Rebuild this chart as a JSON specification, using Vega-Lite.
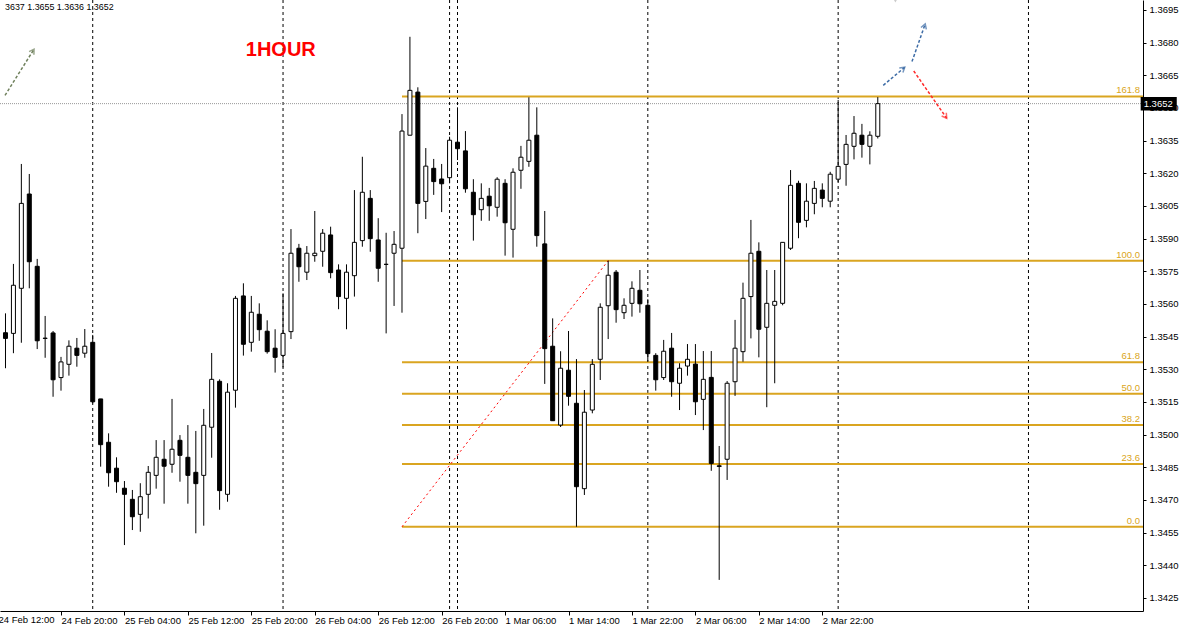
{
  "$schema": "https://vega.github.io/schema/vega-lite/v6.json",
  "width": 1143,
  "height": 611,
  "autosize": "none",
  "padding": {"left": 0, "top": 0, "right": 40, "bottom": 17},
  "background": "white",
  "config": {
    "view": {"stroke": null},
    "axis": {"labelFont": "Liberation Sans", "labelFontSize": 9.5, "labelColor": "black", "domainColor": "black", "tickColor": "black", "grid": false, "title": null, "labelOverlap": false, "labelFlush": false, "labelBound": false}
  },
  "datasets": {
    "candles": [
      {"i":0,"o":1.35468,"h":1.35557,"l":1.35305,"c":1.35442},
      {"i":1,"o":1.35465,"h":1.35784,"l":1.35374,"c":1.35686},
      {"i":2,"o":1.35672,"h":1.36243,"l":1.35422,"c":1.36062},
      {"i":3,"o":1.36105,"h":1.36197,"l":1.35672,"c":1.35794},
      {"i":4,"o":1.35773,"h":1.35807,"l":1.35393,"c":1.35431},
      {"i":5,"o":1.35443,"h":1.35545,"l":1.35353,"c":1.35442},
      {"i":6,"o":1.35467,"h":1.35476,"l":1.35174,"c":1.35252},
      {"i":7,"o":1.35262,"h":1.35357,"l":1.35202,"c":1.35334},
      {"i":8,"o":1.35323,"h":1.35433,"l":1.35271,"c":1.35406},
      {"i":9,"o":1.35397,"h":1.35444,"l":1.35312,"c":1.35364},
      {"i":10,"o":1.35374,"h":1.35485,"l":1.35353,"c":1.35406},
      {"i":11,"o":1.35424,"h":1.35458,"l":1.35144,"c":1.35151},
      {"i":12,"o":1.35164,"h":1.35164,"l":1.34853,"c":1.34954},
      {"i":13,"o":1.34965,"h":1.35006,"l":1.34761,"c":1.34825},
      {"i":14,"o":1.34846,"h":1.34896,"l":1.34733,"c":1.34784},
      {"i":15,"o":1.34754,"h":1.34787,"l":1.34493,"c":1.34726},
      {"i":16,"o":1.34703,"h":1.34746,"l":1.34562,"c":1.34623},
      {"i":17,"o":1.34634,"h":1.34777,"l":1.34554,"c":1.34715},
      {"i":18,"o":1.34726,"h":1.34856,"l":1.34615,"c":1.34827},
      {"i":19,"o":1.34813,"h":1.34975,"l":1.34752,"c":1.34896},
      {"i":20,"o":1.34887,"h":1.34975,"l":1.34683,"c":1.34855},
      {"i":21,"o":1.34864,"h":1.35164,"l":1.34825,"c":1.34933},
      {"i":22,"o":1.34974,"h":1.34998,"l":1.34784,"c":1.34905},
      {"i":23,"o":1.34896,"h":1.35044,"l":1.34683,"c":1.34813},
      {"i":24,"o":1.34827,"h":1.35017,"l":1.34547,"c":1.34775},
      {"i":25,"o":1.34813,"h":1.35118,"l":1.34582,"c":1.35043},
      {"i":26,"o":1.35034,"h":1.35375,"l":1.34894,"c":1.35254},
      {"i":27,"o":1.35245,"h":1.35254,"l":1.34655,"c":1.34743},
      {"i":28,"o":1.34726,"h":1.35236,"l":1.34692,"c":1.35195},
      {"i":29,"o":1.35204,"h":1.35637,"l":1.35124,"c":1.35626},
      {"i":30,"o":1.35637,"h":1.35695,"l":1.35363,"c":1.35415},
      {"i":31,"o":1.35424,"h":1.35637,"l":1.35381,"c":1.35562},
      {"i":32,"o":1.35553,"h":1.35603,"l":1.35431,"c":1.35482},
      {"i":33,"o":1.35475,"h":1.35525,"l":1.35372,"c":1.35381},
      {"i":34,"o":1.35397,"h":1.35484,"l":1.35285,"c":1.35355},
      {"i":35,"o":1.35364,"h":1.35649,"l":1.35309,"c":1.35465},
      {"i":36,"o":1.35473,"h":1.35944,"l":1.35439,"c":1.35833},
      {"i":37,"o":1.35856,"h":1.35876,"l":1.35702,"c":1.35771},
      {"i":38,"o":1.35746,"h":1.35866,"l":1.3571,"c":1.35833},
      {"i":39,"o":1.35822,"h":1.36027,"l":1.35794,"c":1.35833},
      {"i":40,"o":1.35842,"h":1.35944,"l":1.35771,"c":1.35925},
      {"i":41,"o":1.35917,"h":1.35955,"l":1.35718,"c":1.35744},
      {"i":42,"o":1.35756,"h":1.35782,"l":1.35576,"c":1.35634},
      {"i":43,"o":1.35626,"h":1.35782,"l":1.35484,"c":1.35746},
      {"i":44,"o":1.3573,"h":1.36123,"l":1.35634,"c":1.35883},
      {"i":45,"o":1.35891,"h":1.36276,"l":1.35863,"c":1.36113},
      {"i":46,"o":1.36085,"h":1.36123,"l":1.3584,"c":1.359},
      {"i":47,"o":1.35894,"h":1.35994,"l":1.35702,"c":1.35764},
      {"i":48,"o":1.35782,"h":1.35927,"l":1.35465,"c":1.35782},
      {"i":49,"o":1.35833,"h":1.35935,"l":1.35591,"c":1.35874},
      {"i":50,"o":1.35856,"h":1.36472,"l":1.3556,"c":1.36394},
      {"i":51,"o":1.36375,"h":1.36827,"l":1.36375,"c":1.36581},
      {"i":52,"o":1.36573,"h":1.36595,"l":1.35925,"c":1.36062},
      {"i":53,"o":1.36071,"h":1.36316,"l":1.3599,"c":1.36233},
      {"i":54,"o":1.36223,"h":1.36266,"l":1.36101,"c":1.36162},
      {"i":55,"o":1.36174,"h":1.36243,"l":1.36022,"c":1.36152},
      {"i":56,"o":1.3618,"h":1.36368,"l":1.36154,"c":1.36352},
      {"i":57,"o":1.36343,"h":1.36503,"l":1.36261,"c":1.36313},
      {"i":58,"o":1.36303,"h":1.36394,"l":1.36111,"c":1.36129},
      {"i":59,"o":1.36113,"h":1.36173,"l":1.35891,"c":1.3601},
      {"i":60,"o":1.36033,"h":1.36154,"l":1.35982,"c":1.36085},
      {"i":61,"o":1.36095,"h":1.36133,"l":1.35982,"c":1.36051},
      {"i":62,"o":1.36044,"h":1.36182,"l":1.36001,"c":1.36173},
      {"i":63,"o":1.36154,"h":1.36173,"l":1.35822,"c":1.35973},
      {"i":64,"o":1.35943,"h":1.36223,"l":1.35813,"c":1.36205},
      {"i":65,"o":1.36214,"h":1.36326,"l":1.36129,"c":1.36274},
      {"i":66,"o":1.36255,"h":1.36549,"l":1.3623,"c":1.36352},
      {"i":67,"o":1.36375,"h":1.36503,"l":1.35863,"c":1.35914},
      {"i":68,"o":1.35876,"h":1.36027,"l":1.35233,"c":1.35395},
      {"i":69,"o":1.35406,"h":1.35534,"l":1.35064,"c":1.35064},
      {"i":70,"o":1.35044,"h":1.35383,"l":1.35035,"c":1.35305},
      {"i":71,"o":1.35296,"h":1.35476,"l":1.35133,"c":1.35176},
      {"i":72,"o":1.35144,"h":1.35347,"l":1.34577,"c":1.34761},
      {"i":73,"o":1.34752,"h":1.35205,"l":1.34723,"c":1.35103},
      {"i":74,"o":1.35113,"h":1.35347,"l":1.35098,"c":1.35323},
      {"i":75,"o":1.35346,"h":1.35603,"l":1.35251,"c":1.35585},
      {"i":76,"o":1.35592,"h":1.35799,"l":1.35439,"c":1.35732},
      {"i":77,"o":1.35746,"h":1.35756,"l":1.35514,"c":1.35574},
      {"i":78,"o":1.3556,"h":1.35626,"l":1.35531,"c":1.35594},
      {"i":79,"o":1.35603,"h":1.35704,"l":1.35542,"c":1.35672},
      {"i":80,"o":1.35663,"h":1.35756,"l":1.3556,"c":1.35601},
      {"i":81,"o":1.35594,"h":1.35622,"l":1.35334,"c":1.35372},
      {"i":82,"o":1.35364,"h":1.35374,"l":1.35202,"c":1.35252},
      {"i":83,"o":1.35262,"h":1.35435,"l":1.35251,"c":1.35383},
      {"i":84,"o":1.35397,"h":1.35467,"l":1.35174,"c":1.35243},
      {"i":85,"o":1.35236,"h":1.35328,"l":1.35113,"c":1.35305},
      {"i":86,"o":1.35315,"h":1.35416,"l":1.35271,"c":1.35346},
      {"i":87,"o":1.35324,"h":1.35416,"l":1.3509,"c":1.35151},
      {"i":88,"o":1.35162,"h":1.35384,"l":1.35021,"c":1.35254},
      {"i":89,"o":1.35263,"h":1.35384,"l":1.34834,"c":1.34868},
      {"i":90,"o":1.34857,"h":1.34948,"l":1.34333,"c":1.34854},
      {"i":91,"o":1.34887,"h":1.35246,"l":1.34792,"c":1.35236},
      {"i":92,"o":1.35243,"h":1.35527,"l":1.35178,"c":1.35397},
      {"i":93,"o":1.35381,"h":1.35698,"l":1.35335,"c":1.35626},
      {"i":94,"o":1.35634,"h":1.35986,"l":1.35442,"c":1.35833},
      {"i":95,"o":1.35842,"h":1.35883,"l":1.35355,"c":1.35484},
      {"i":96,"o":1.35493,"h":1.35756,"l":1.35126,"c":1.35603},
      {"i":97,"o":1.35594,"h":1.35756,"l":1.35236,"c":1.35612},
      {"i":98,"o":1.35603,"h":1.35883,"l":1.35594,"c":1.35883},
      {"i":99,"o":1.35856,"h":1.36215,"l":1.35848,"c":1.36145},
      {"i":100,"o":1.36154,"h":1.36166,"l":1.35902,"c":1.35975},
      {"i":101,"o":1.35984,"h":1.36154,"l":1.35952,"c":1.36072},
      {"i":102,"o":1.36062,"h":1.36165,"l":1.36012,"c":1.36131},
      {"i":103,"o":1.36123,"h":1.36154,"l":1.36044,"c":1.36085},
      {"i":104,"o":1.36072,"h":1.36207,"l":1.36044,"c":1.36196},
      {"i":105,"o":1.36173,"h":1.36537,"l":1.3616,"c":1.36232},
      {"i":106,"o":1.36241,"h":1.36376,"l":1.36143,"c":1.36333},
      {"i":107,"o":1.36324,"h":1.36463,"l":1.36264,"c":1.36384},
      {"i":108,"o":1.36375,"h":1.36427,"l":1.36272,"c":1.36333},
      {"i":109,"o":1.36324,"h":1.36393,"l":1.36241,"c":1.36375},
      {"i":110,"o":1.3637,"h":1.3655,"l":1.3636,"c":1.3652}
    ],
    "seps": [{"i":11},{"i":35},{"i":56},{"i":57},{"i":81},{"i":105},{"i":129}],
    "fib": [
      {"lv":"0.0","t1":50,"p":1.34577},
      {"lv":"23.6","t1":50,"p":1.34865},
      {"lv":"38.2","t1":50,"p":1.35044},
      {"lv":"50.0","t1":50,"p":1.35188},
      {"lv":"61.8","t1":50,"p":1.35332},
      {"lv":"100.0","t1":50,"p":1.35799},
      {"lv":"161.8","t1":50,"p":1.36553}
    ],
    "diag": [{"i":50,"p":1.34577},{"i":76,"p":1.35799}],
    "cur": [{"p":1.3652,"label":"1.3652","x1":143.15,"x2":147.7,"p1":1.36489,"p2":1.36551}],
    "arrows": [
      {"id":"olive","i":-0.06,"p":1.36558},
      {"id":"olive","i":3.6,"p":1.3677},
      {"id":"blue1","i":110.69,"p":1.36604},
      {"id":"blue1","i":113.4,"p":1.36687},
      {"id":"blue2","i":114.31,"p":1.36713},
      {"id":"blue2","i":115.98,"p":1.36886},
      {"id":"red","i":114.53,"p":1.3667},
      {"id":"red","i":118.69,"p":1.36453}
    ]
  },
  "layer": [
    {
      "data": {"name": "seps"},
      "mark": {"type": "rule", "color": "black", "strokeDash": [3, 3], "strokeWidth": 1},
      "encoding": {"x": {"field": "i", "type": "quantitative"}}
    },
    {
      "data": {"name": "fib"},
      "mark": {"type": "rule", "color": "#DAA520", "strokeWidth": 2},
      "encoding": {
        "x": {"field": "t1", "type": "quantitative"},
        "x2": {"value": "width"},
        "y": {"field": "p", "type": "quantitative", "axis": {"orient": "right"}}
      }
    },
    {
      "data": {"name": "fib"},
      "mark": {"type": "text", "color": "#DAA520", "font": "Liberation Sans", "fontSize": 9.5, "align": "right", "baseline": "bottom", "dx": -3, "dy": -1},
      "encoding": {
        "x": {"value": "width"},
        "y": {"field": "p", "type": "quantitative", "axis": {"orient": "right"}},
        "text": {"field": "lv"}
      }
    },
    {
      "data": {"name": "cur"},
      "mark": {"type": "rule", "color": "#999999", "strokeDash": [1, 1], "strokeWidth": 1},
      "encoding": {"y": {"field": "p", "type": "quantitative", "axis": {"orient": "right"}}}
    },
    {
      "data": {"name": "diag"},
      "mark": {"type": "line", "color": "#FF0000", "strokeDash": [2, 3], "strokeWidth": 1},
      "encoding": {
        "x": {"field": "i", "type": "quantitative"},
        "y": {"field": "p", "type": "quantitative", "axis": {"orient": "right"}}
      }
    },
    {
      "data": {"name": "candles"},
      "mark": {"type": "rule", "color": "black", "strokeWidth": 1},
      "encoding": {
        "x": {"field": "i", "type": "quantitative"},
        "y": {"field": "l", "type": "quantitative", "axis": {"orient": "right"}},
        "y2": {"field": "h"}
      }
    },
    {
      "data": {"name": "candles"},
      "mark": {"type": "bar", "size": 4, "stroke": "black", "strokeWidth": 1},
      "encoding": {
        "x": {
          "field": "i", "type": "quantitative",
          "scale": {"domain": [-0.0625, 142.8125], "nice": false, "zero": false},
          "axis": {
            "values": [7, 15, 23, 31, 39, 47, 55, 63, 71, 79, 87, 95, 103],
            "tickCount": 60,
            "labelExpr": "['24 Feb 12:00','24 Feb 20:00','25 Feb 04:00','25 Feb 12:00','25 Feb 20:00','26 Feb 04:00','26 Feb 12:00','26 Feb 20:00','1 Mar 06:00','1 Mar 14:00','1 Mar 22:00','2 Mar 06:00','2 Mar 14:00','2 Mar 22:00'][(datum.value+1)/8]",
            "labelAlign": "left", "labelBaseline": "top", "tickSize": 4, "labelPadding": 0, "labelDx": 1,
            "labelFlush": false, "labelOverlap": false, "labelBound": false, "zindex": 0
          }
        },
        "y": {
          "field": "o", "type": "quantitative",
          "scale": {"domain": [1.341902, 1.369959], "nice": false, "zero": false},
          "axis": {
            "orient": "right",
            "values": [1.3425, 1.344, 1.3455, 1.347, 1.3485, 1.35, 1.3515, 1.353, 1.3545, 1.356, 1.3575, 1.359, 1.3605, 1.362, 1.3635, 1.365, 1.3665, 1.368, 1.3695],
            "tickCount": 60,
            "format": ".4f", "tickSize": 3, "labelPadding": 3, "labelAlign": "left",
            "labelFlush": false, "labelOverlap": false, "labelBound": false, "zindex": 0
          }
        },
        "y2": {"field": "c"},
        "fill": {"condition": {"test": "datum.c >= datum.o", "value": "white"}, "value": "black"}
      }
    },
    {
      "data": {"name": "arrows"},
      "mark": {"type": "line", "strokeDash": [3, 2], "strokeWidth": 1.5},
      "encoding": {
        "x": {"field": "i", "type": "quantitative"},
        "y": {"field": "p", "type": "quantitative", "axis": {"orient": "right"}},
        "detail": {"field": "id"},
        "color": {"field": "id", "type": "nominal", "legend": null,
                  "scale": {"domain": ["olive", "blue1", "blue2", "red"], "range": ["#6F805C", "#3D6CA6", "#3D6CA6", "#FF2A2A"]}}
      }
    },
    {
      "data": {"name": "arrows"},
      "transform": [{"filter": "datum.id == 'olive' && datum.i > 1"}],
      "mark": {"type": "point", "shape": "M-1,-0.6L0,0L-1,0.6", "filled": false, "stroke": "#6F805C", "strokeWidth": 1.5, "size": 90, "angle": -57.5},
      "encoding": {"x": {"field": "i", "type": "quantitative"}, "y": {"field": "p", "type": "quantitative", "axis": {"orient": "right"}}}
    },
    {
      "data": {"name": "arrows"},
      "transform": [{"filter": "datum.id == 'blue1' && datum.i > 112"}],
      "mark": {"type": "point", "shape": "M-1,-0.6L0,0L-1,0.6", "filled": false, "stroke": "#3D6CA6", "strokeWidth": 1.5, "size": 90, "angle": -39.7},
      "encoding": {"x": {"field": "i", "type": "quantitative"}, "y": {"field": "p", "type": "quantitative", "axis": {"orient": "right"}}}
    },
    {
      "data": {"name": "arrows"},
      "transform": [{"filter": "datum.id == 'blue2' && datum.i > 115"}],
      "mark": {"type": "point", "shape": "M-1,-0.6L0,0L-1,0.6", "filled": false, "stroke": "#3D6CA6", "strokeWidth": 1.5, "size": 90, "angle": -70.6},
      "encoding": {"x": {"field": "i", "type": "quantitative"}, "y": {"field": "p", "type": "quantitative", "axis": {"orient": "right"}}}
    },
    {
      "data": {"name": "arrows"},
      "transform": [{"filter": "datum.id == 'red' && datum.i > 116"}],
      "mark": {"type": "point", "shape": "M-1,-0.6L0,0L-1,0.6", "filled": false, "stroke": "#FF2A2A", "strokeWidth": 1.5, "size": 90, "angle": 54.8},
      "encoding": {"x": {"field": "i", "type": "quantitative"}, "y": {"field": "p", "type": "quantitative", "axis": {"orient": "right"}}}
    },
    {
      "data": {"values": [{"i": 112.22, "p": 1.37}]},
      "mark": {"type": "point", "shape": "triangle-down", "filled": true, "color": "#B5B5B5", "size": 60, "clip": true},
      "encoding": {"x": {"field": "i", "type": "quantitative"}, "y": {"field": "p", "type": "quantitative", "axis": {"orient": "right"}}}
    },
    {
      "data": {"values": [{"t": "1HOUR", "i": 30.3, "p": 1.36767}]},
      "mark": {"type": "text", "color": "#FF0000", "font": "Liberation Sans", "fontSize": 20, "fontWeight": "bold", "align": "left", "baseline": "middle"},
      "encoding": {"x": {"field": "i", "type": "quantitative"}, "y": {"field": "p", "type": "quantitative", "axis": {"orient": "right"}}, "text": {"field": "t"}}
    },
    {
      "data": {"values": [{"t": "3637 1.3655 1.3636 1.3652", "i": -0.06, "p": 1.36964}]},
      "mark": {"type": "text", "color": "black", "font": "Liberation Sans", "fontSize": 8.9, "align": "left", "baseline": "middle"},
      "encoding": {"x": {"field": "i", "type": "quantitative"}, "y": {"field": "p", "type": "quantitative", "axis": {"orient": "right"}}, "text": {"field": "t"}}
    },
    {
      "data": {"values": [{"t": "24 Feb 12:00", "i": -1, "p": 1.341718}]},
      "mark": {"type": "text", "color": "black", "font": "Liberation Sans", "fontSize": 9.5, "align": "left", "baseline": "top", "dx": 1, "clip": false},
      "encoding": {"x": {"field": "i", "type": "quantitative"}, "y": {"field": "p", "type": "quantitative", "axis": {"orient": "right"}}, "text": {"field": "t"}}
    },
    {
      "data": {"name": "cur"},
      "mark": {"type": "rect", "color": "black", "clip": false},
      "encoding": {
        "x": {"field": "x1", "type": "quantitative"},
        "x2": {"field": "x2"},
        "y": {"field": "p1", "type": "quantitative", "axis": {"orient": "right"}},
        "y2": {"field": "p2"}
      }
    },
    {
      "data": {"name": "cur"},
      "mark": {"type": "text", "color": "white", "font": "Liberation Sans", "fontSize": 9.5, "align": "left", "baseline": "middle", "dx": 3, "clip": false},
      "encoding": {
        "x": {"field": "x1", "type": "quantitative"},
        "y": {"field": "p", "type": "quantitative", "axis": {"orient": "right"}},
        "text": {"field": "label"}
      }
    }
  ]
}
